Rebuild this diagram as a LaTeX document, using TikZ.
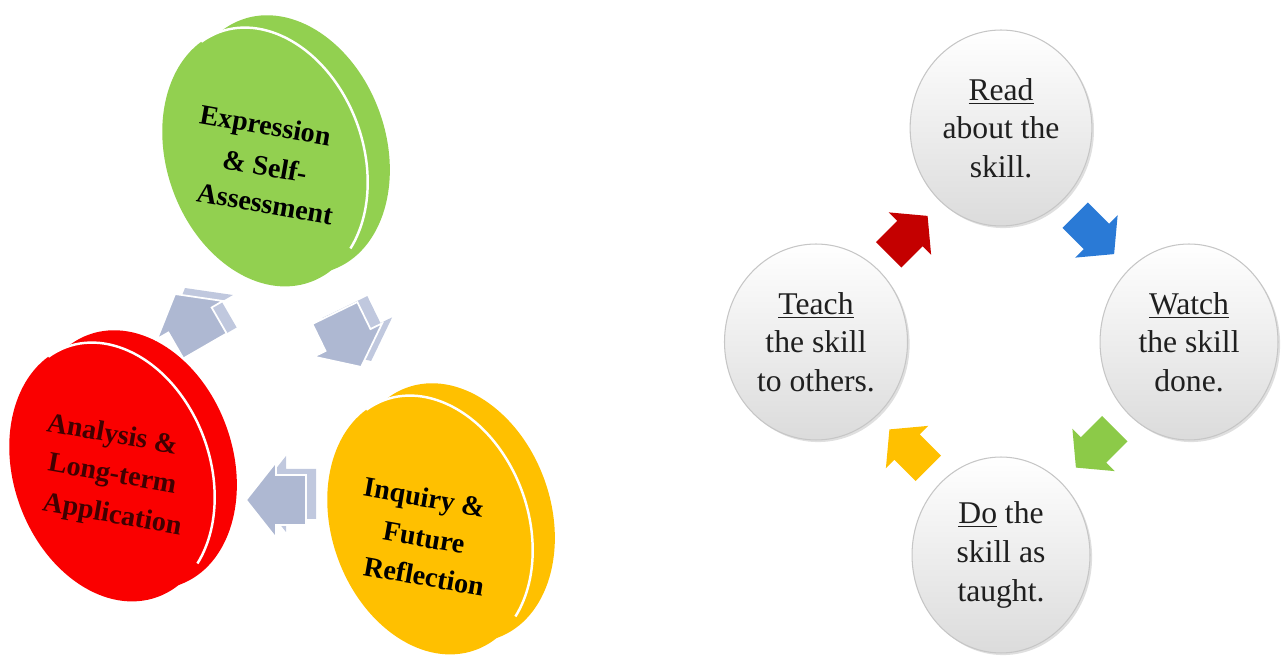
\documentclass[tikz,border=0pt]{standalone}
\usepackage{fontspec}
\setmainfont{Liberation Serif}
\usetikzlibrary{shapes.geometric,shadows,calc}
\definecolor{grnDisc}{RGB}{146,208,80}
\definecolor{redDisc}{RGB}{250,0,0}
\definecolor{ylwDisc}{RGB}{255,192,0}
\definecolor{arwFront}{RGB}{174,184,210}
\definecolor{arwSide}{RGB}{192,200,222}
\definecolor{arwRed}{RGB}{196,0,0}
\definecolor{arwBlue}{RGB}{42,122,214}
\definecolor{arwGreen}{RGB}{140,202,72}
\definecolor{arwYellow}{RGB}{255,192,0}
\begin{document}
\begin{tikzpicture}[x=0.02cm, y=0.02cm,
		discTxt/.style={rotate=-10, inner sep=0pt, font=\fontsize{16}{22}\selectfont\bfseries},
		skill/.style={ellipse, draw=gray!45, line width=0.6pt, minimum width=3.56cm, minimum height=3.92cm,
			top color=white, middle color=white, bottom color=black!14,
			drop shadow={opacity=0.25, shadow xshift=1.2pt, shadow yshift=-1.2pt},
			align=center, text=black!88, font=\fontsize{18}{22}\selectfont}]
		\useasboundingbox (0,0) rectangle (1281,662);
		% left cycle: tilted discs with rim
		\foreach \cx/\cy/\col in {265/505/grnDisc, 112/190/redDisc, 430/137/ylwDisc} {
			\begin{scope}[shift={(\cx,\cy)}, rotate=20]
				\fill[\col] (25,4) ellipse [x radius=98, y radius=133];
				\fill[\col] (0,0) ellipse [x radius=98, y radius=133];
				\draw[white, line width=1.4pt] (102:98 and 133) arc [start angle=102, end angle=-60, x radius=98, y radius=133];
			\end{scope}
		}
		% grey block arrows with depth
		\foreach \ax/\ay/\ang in {190/342/120, 348/322/-64, 276/162/180} {
			\fill[arwSide, shift={(\ax+10,\ay+6)}, rotate=\ang] (-30,-25) -- (0,-25) -- (0,-38) -- (30,0) -- (0,38) -- (0,25) -- (-30,25) -- cycle;
			\filldraw[fill=arwFront, draw=white, line width=1pt, shift={(\ax,\ay)}, rotate=\ang] (-30,-25) -- (0,-25) -- (0,-38) -- (30,0) -- (0,38) -- (0,25) -- (-30,25) -- cycle;
		}
		% disc labels, one node per line
		\foreach \t [count=\i] in {Expression, \& Self-, Assessment}
			\node[discTxt] (expr\i) at (265,572-38*\i) {\t};
		\foreach \t [count=\i] in {Analysis \&, Long-term, Application}
			\node[discTxt, text=black!75!red] (anly\i) at (112,266-40*\i) {\t};
		\foreach \t [count=\i] in {Inquiry \&, Future, Reflection}
			\node[discTxt] (inqr\i) at (424,200-38*\i) {\t};
		% right cycle
		\node[skill] (read) at (1001,534) {\underline{Read}\\about the\\skill.};
		\node[skill] (teach) at (816,320) {\underline{Teach}\\the skill\\to others.};
		\node[skill] (watch) at (1189,320) {\underline{Watch}\\the skill\\done.};
		\node[skill] (do) at (1001,107) {\underline{Do} the\\skill as\\taught.};
		\foreach \a/\b/\ang/\col in {teach/read/45/arwRed, read/watch/-45/arwBlue, watch/do/-135/arwGreen, do/teach/135/arwYellow}
			\fill[\col, shift={($(\a)!0.5!(\b)$)}, rotate=\ang] (-28,-18) -- (2,-18) -- (2,-30) -- (27,0) -- (2,30) -- (2,18) -- (-28,18) -- cycle;
	\end{tikzpicture}
\end{document}
